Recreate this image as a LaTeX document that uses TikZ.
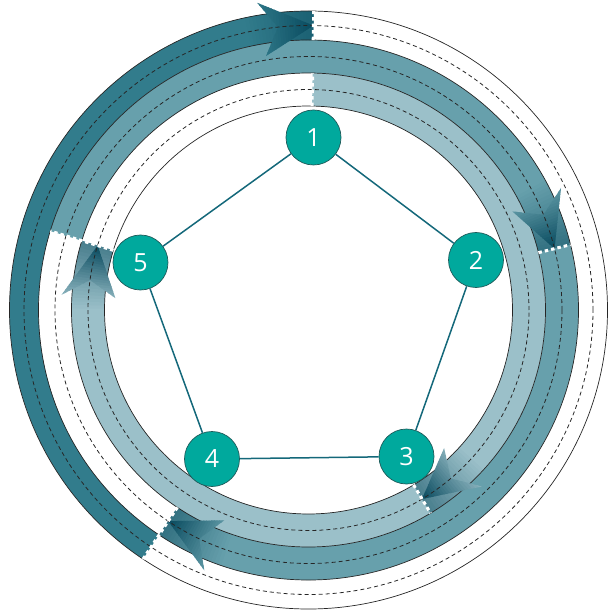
\documentclass[tikz,border=0pt]{standalone}
\usepackage{fontspec}
\newfontfamily\numfont{Open Sans}
\definecolor{bandA}{HTML}{327C8C}
\definecolor{bandB}{HTML}{67A0AC}
\definecolor{bandC}{HTML}{9BC0C9}
\definecolor{tipcol}{HTML}{0A4C60}
\definecolor{nodefill}{HTML}{00A99D}
\definecolor{nodeborder}{HTML}{1E5B5A}
\definecolor{edgecol}{HTML}{14687A}
\tikzset{
  ringline/.style={draw=black!85, line width=0.7pt},
  midline/.style={draw=black!85, line width=0.8pt, dash pattern=on 4pt off 3pt},
  sepline/.style={draw=white, line width=3pt, dash pattern=on 3.5pt off 3pt},
  edgeline/.style={draw=edgecol, line width=1.5pt},
  numnode/.style={circle, fill=nodefill, draw=nodeborder, line width=0.7pt, minimum size=55pt, inner sep=0pt, text=white, font=\numfont\fontsize{25}{25}\selectfont},
}
\newcommand\bandsector[5]{%
  \fill[#1] (#4:#2) arc[start angle=#4, end angle=#5, radius=#2] -- (#5:#3) arc[start angle=#5, end angle=#4, radius=#3] -- cycle;}
% color, r1, r2, end angle, span, band% at tip, band% at back
\newcommand\gradslices[7]{%
  \foreach \i in {0,...,19}{%
    \pgfmathsetmacro\sgA{#4+#5*\i/20}%
    \pgfmathsetmacro\sgB{#4+#5*(\i+1)/20+0.2}%
    \pgfmathtruncatemacro\sgP{#6+(#7-#6)*\i/19}%
    \bandsector{#1!\sgP!tipcol}{#2}{#3}{\sgA}{\sgB}%
  }}
% color, rmid, end angle, span
\newcommand\arrowhd[4]{%
  \pgfmathsetmacro\ahW{#3+#4}%
  \pgfmathsetmacro\ahN{#3+0.68*#4}%
  \pgfmathsetmacro\ahO{#2+27}%
  \pgfmathsetmacro\ahI{#2-27}%
  \pgfmathsetmacro\ahOO{#2+29}%
  \pgfmathsetmacro\ahII{#2-29}%
  \begin{scope}
    \clip (#3:#2) -- (\ahW:\ahO) -- (\ahN:#2) -- (\ahW:\ahI) -- cycle;
    \gradslices{#1}{\ahII}{\ahOO}{#3}{#4}{0}{85}
  \end{scope}}
\begin{document}
\begin{tikzpicture}[x=1pt,y=1pt]
\useasboundingbox (-308.5,-305) rectangle (302.5,310);
% bands
\bandsector{bandA}{270}{299}{236.4}{89}
\bandsector{bandB}{237}{270}{163}{14}
\bandsector{bandB}{237}{270}{14}{-123.6}
\bandsector{bandC}{204}{237}{89}{-59}
\bandsector{bandC}{204}{237}{-59}{-197}
% darkening of the bands towards the tips
\gradslices{bandA}{270}{299}{89}{14}{45}{100}
\gradslices{bandB}{237}{270}{14}{15.5}{45}{100}
\gradslices{bandB}{237}{270}{-123.6}{15.5}{45}{100}
\gradslices{bandC}{204}{237}{-59}{17.5}{45}{100}
\gradslices{bandC}{204}{237}{-197}{17.5}{45}{100}
% ring outlines
\foreach \r in {204,237,270,299}{\draw[ringline] (0,0) circle[radius=\r];}
% arrowheads
\arrowhd{bandA}{284.5}{89}{10.5}
\arrowhd{bandB}{253.5}{14}{11.8}
\arrowhd{bandB}{253.5}{-123.6}{11.8}
\arrowhd{bandC}{220.5}{-59}{13.5}
\arrowhd{bandC}{220.5}{-197}{13.5}
% dashed middle lines
\foreach \r in {220.5,253.5,284.5}{\draw[midline] (0,0) circle[radius=\r];}
% separators
\draw[sepline] (89:270) -- (89:299);
\draw[sepline] (89:204) -- (89:237);
\draw[sepline] (14:237) -- (14:270);
\draw[sepline] (-59:204) -- (-59:237);
\draw[sepline] (163:204) -- (163:270);
\draw[sepline] (236.4:237) -- (236.4:301);
% nodes
\node[numnode] (n1) at (5,172.5) {1};
\node[numnode] (n2) at (167.5,50) {2};
\node[numnode] (n3) at (98,-146.5) {3};
\node[numnode] (n4) at (-96.5,-149) {4};
\node[numnode] (n5) at (-168,47.5) {5};
\draw[edgeline] (n1) -- (n2);
\draw[edgeline] (n2) -- (n3);
\draw[edgeline] (n3) -- (n4);
\draw[edgeline] (n4) -- (n5);
\draw[edgeline] (n5) -- (n1);
\end{tikzpicture}
\end{document}
